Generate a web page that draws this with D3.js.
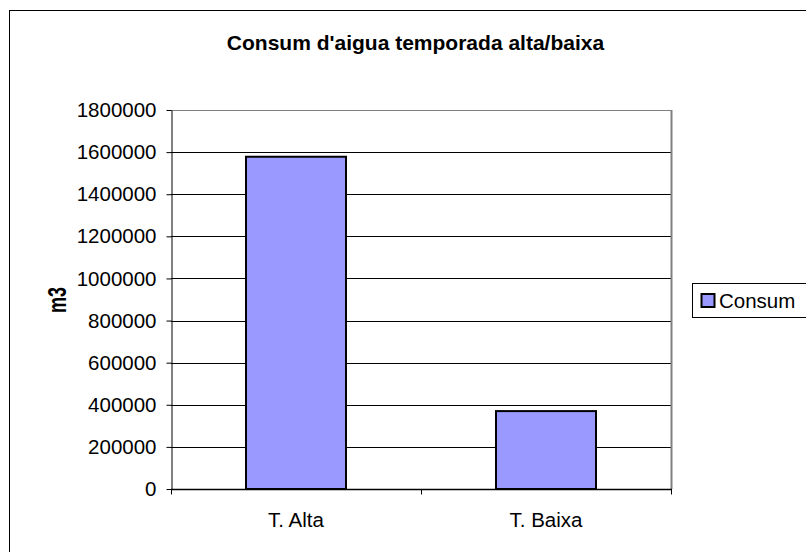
<!DOCTYPE html>
<html><head><meta charset="utf-8">
<script src="https://cdn.jsdelivr.net/npm/d3@7"></script>
<style>body{margin:0;background:#fff}svg{display:block;font-family:Arial,"Liberation Sans",sans-serif}</style>
</head><body><svg id="c" width="806" height="552"></svg>
<script>
const categories = ["T. Alta", "T. Baixa"];
const consum = [1578000, 370000];
const yTicks = [0, 200000, 400000, 600000, 800000, 1000000, 1200000, 1400000, 1600000, 1800000];
const seriesName = "Consum";
const title = "Consum d'aigua temporada alta/baixa";
const yTitle = "m3";

const svg = d3.select("#c");
const L = 171, R = 671, T = 110, B = 489;
svg.append("rect").attr("x", 9.5).attr("y", 10.5).attr("width", 900).attr("height", 700)
  .attr("fill", "#fff").attr("stroke", "#000").attr("stroke-width", 1);

const x = d3.scaleBand().domain(categories).range([L, R]).paddingInner(0.6).paddingOuter(0.3);
const y = d3.scaleLinear().domain([0, 1800000]).range([B, T]);

// gridlines
svg.append("g").selectAll("line").data(yTicks.slice(1)).join("line")
  .attr("x1", L).attr("x2", R).attr("y1", d => Math.round(y(d)) + 0.5).attr("y2", d => Math.round(y(d)) + 0.5)
  .attr("stroke", "#000").attr("stroke-width", 1);

// plot area right border
svg.append("line").attr("x1", R + 0.5).attr("x2", R + 0.5).attr("y1", T).attr("y2", B)
  .attr("stroke", "#808080").attr("stroke-width", 2);
svg.append("line").attr("x1", L).attr("x2", R + 1).attr("y1", T + 0.5).attr("y2", T + 0.5)
  .attr("stroke", "#808080").attr("stroke-width", 1);

// bars
svg.append("g").selectAll("rect").data(categories).join("rect")
  .attr("x", d => x(d)).attr("width", x.bandwidth())
  .attr("y", (d, i) => y(consum[i])).attr("height", (d, i) => B - y(consum[i]))
  .attr("fill", "#9999FF").attr("stroke", "#000").attr("stroke-width", 2);

// y axis
const yAxis = d3.axisLeft(y).tickValues(yTicks).tickFormat(d3.format("d")).tickSizeInner(5).tickSizeOuter(0).tickPadding(10);
const ga = svg.append("g").attr("transform", `translate(${L + 0.5},0)`).call(yAxis);
ga.select(".domain").attr("stroke", "#000");
ga.selectAll(".tick line").attr("stroke", "#000");
ga.selectAll(".tick text").attr("font-size", 20.5).attr("font-family", "Arial, 'Liberation Sans', sans-serif").attr("fill", "#000");

// x axis
const xs = d3.scalePoint().domain([0, 1, 2]).range([L, R]);
const gx = svg.append("g").attr("transform", `translate(0,${B + 0.5})`);
gx.append("line").attr("x1", L).attr("x2", R + 1).attr("stroke", "#000").attr("stroke-width", 1.5);
gx.selectAll("line.t").data([0, 1, 2]).join("line").attr("class", "t")
  .attr("x1", d => xs(d) + 0.5).attr("x2", d => xs(d) + 0.5).attr("y1", 0).attr("y2", 5).attr("stroke", "#000");
gx.selectAll("text").data(categories).join("text")
  .attr("x", d => x(d) + x.bandwidth() / 2).attr("y", 37).attr("text-anchor", "middle")
  .attr("font-size", 20.5).attr("fill", "#000").text(d => d);

// title
svg.append("text").attr("x", 415.5).attr("y", 50).attr("text-anchor", "middle")
  .attr("font-size", 21).attr("font-weight", "bold").text(title);
// y title
svg.append("text").attr("transform", "translate(66,300) rotate(-90)").attr("text-anchor", "middle")
  .attr("font-size", 25).attr("font-weight", "bold")
  .attr("textLength", 26).attr("lengthAdjust", "spacingAndGlyphs").text(yTitle);

// legend
const lg = svg.append("g");
lg.append("rect").attr("x", 692.5).attr("y", 283.5).attr("width", 200).attr("height", 34)
  .attr("fill", "#fff").attr("stroke", "#000").attr("stroke-width", 1);
lg.append("rect").attr("x", 701.5).attr("y", 294).attr("width", 13).attr("height", 13)
  .attr("fill", "#9999FF").attr("stroke", "#000").attr("stroke-width", 2);
lg.append("text").attr("x", 719).attr("y", 308).attr("font-size", 20.5).text(seriesName);
</script></body></html>
